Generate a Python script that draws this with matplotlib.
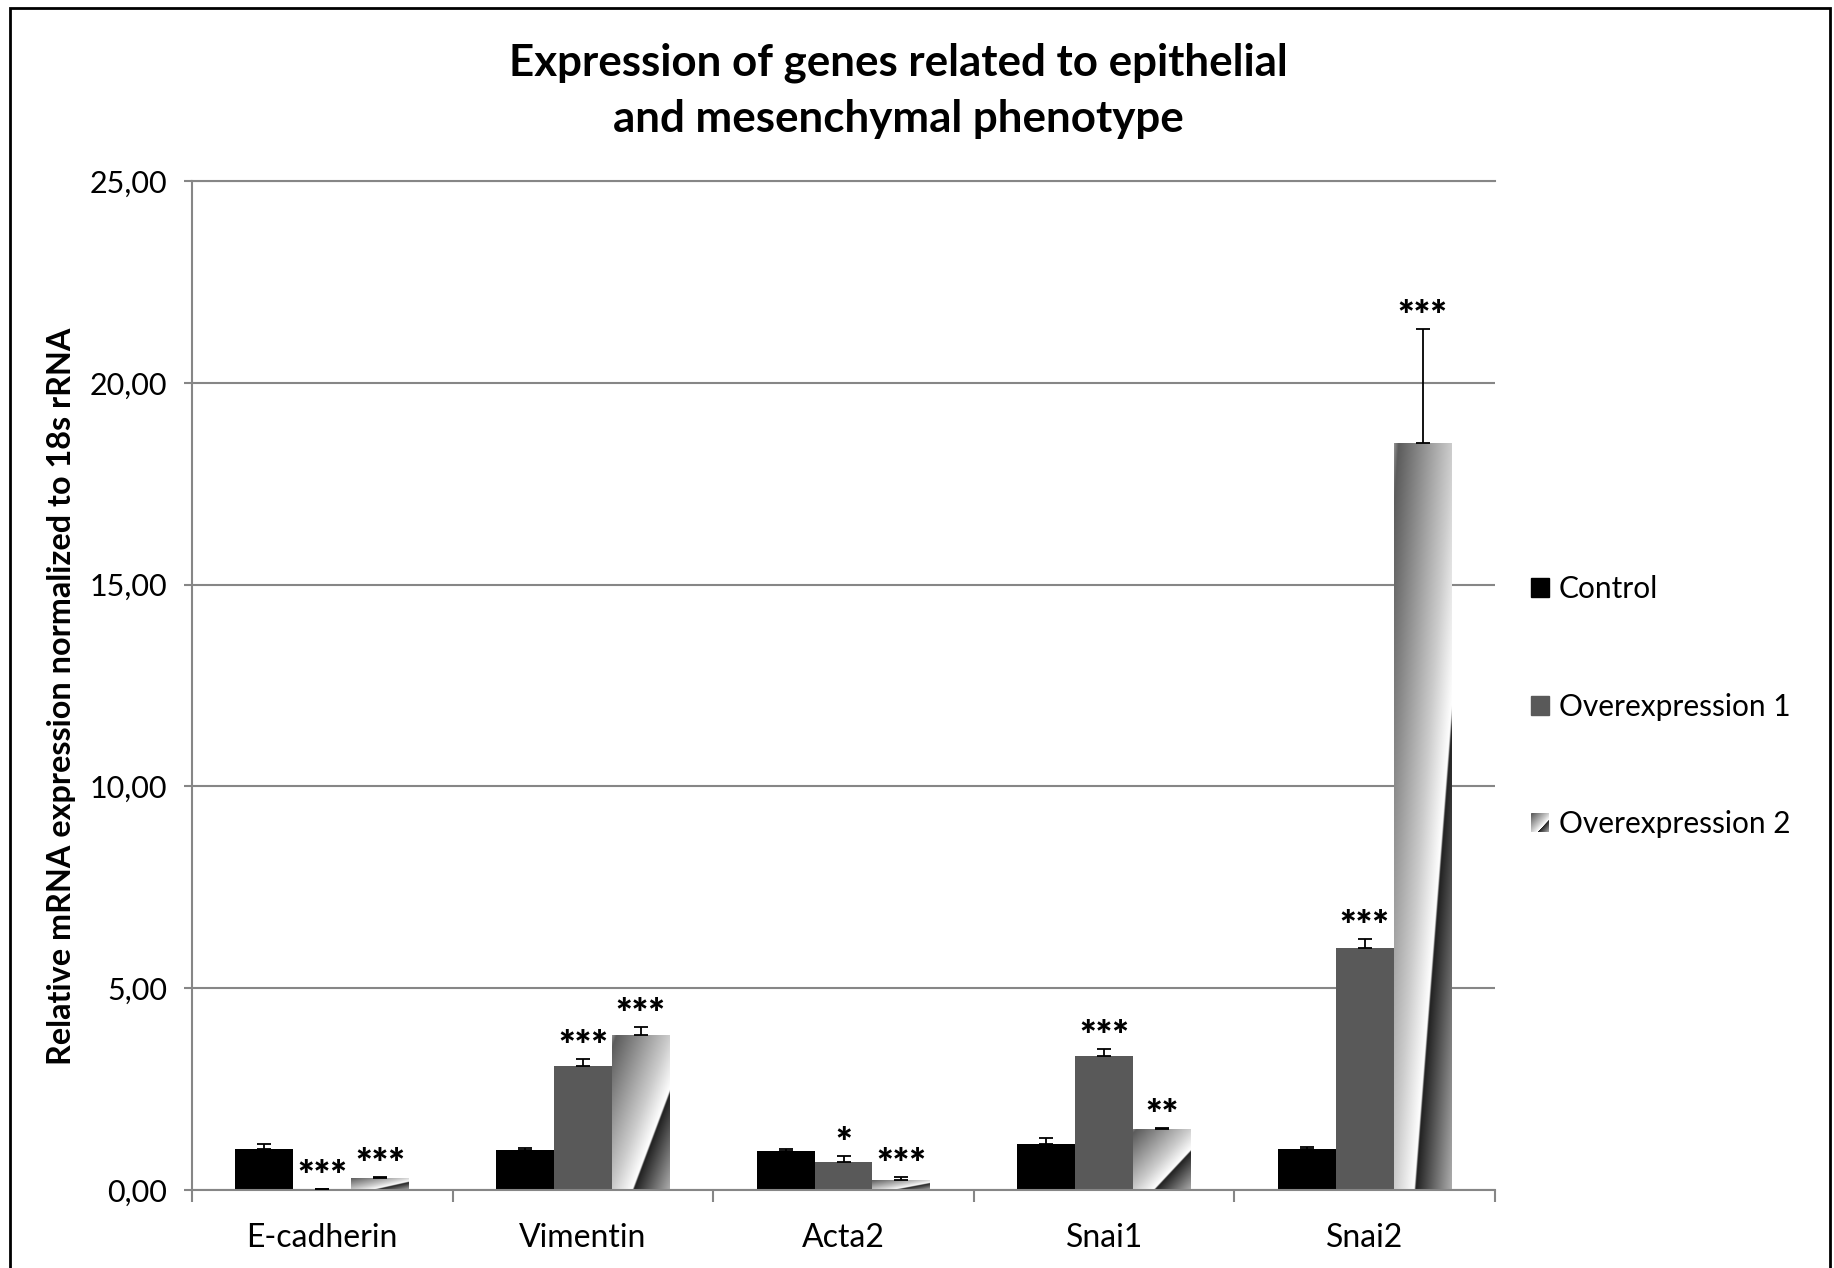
import numpy as np
import matplotlib
matplotlib.use("Agg")
import matplotlib.pyplot as plt
from matplotlib.patches import Rectangle
from matplotlib.ticker import FuncFormatter, FixedLocator
from matplotlib.legend_handler import HandlerBase
from matplotlib.image import BboxImage
from matplotlib.transforms import Bbox, TransformedBbox

plt.rcParams['font.family'] = ['Lato', 'DejaVu Sans']

# ---- data ----
genes = ["E-cadherin", "Vimentin", "Acta2", "Snai1", "Snai2"]
series_names = ["Control", "Overexpression 1", "Overexpression 2"]
control = [1.01, 0.99, 0.97, 1.13, 1.01]
control_err = [0.13, 0.05, 0.04, 0.16, 0.05]
oe1 = [0.03, 3.07, 0.69, 3.33, 5.99]
oe1_err = [0.00, 0.17, 0.15, 0.17, 0.24]
oe2 = [0.30, 3.83, 0.25, 1.52, 18.50]
oe2_err = [0.03, 0.20, 0.06, 0.01, 2.83]
oe1_sig = ["***", "***", "*", "***", "***"]
oe2_sig = ["***", "***", "***", "**", "***"]
y_ticks = [0, 5, 10, 15, 20, 25]

GRID = "#868686"
FS = 23


def diagonal_shade(n=400):
    """Grey diagonal gradient in the unit square (origin at the lower left)."""
    xs = np.linspace(0, 1, n)
    X, Y = np.meshgrid(xs, xs)
    t = (X - Y + 1.0) / 2.0
    stops_t = [0.0, 0.04, 0.50, 0.675, 0.688, 1.0]
    stops_v = [0.58, 0.36, 0.80, 1.0, 0.13, 0.68]
    g = np.interp(t, stops_t, stops_v)
    return np.dstack([g, g, g])


SHADE = diagonal_shade()

fig = plt.figure(figsize=(18.34, 12.68), dpi=100)
ax = fig.add_axes([192 / 1834, 1 - 1190 / 1268, (1495 - 192) / 1834, (1190 - 181) / 1268])

x = np.arange(len(genes))
w = 1 / 4.5

b0 = ax.bar(x - w, control, w, color="black", zorder=2)
b1 = ax.bar(x, oe1, w, color="#595959", zorder=2)
b2 = ax.bar(x + w, oe2, w, color="none", zorder=2)

# gradient fill for the third series, clipped to each bar
for bar in b2:
    x0, y0 = bar.get_x(), bar.get_y()
    bw, bh = bar.get_width(), bar.get_height()
    im = ax.imshow(SHADE, extent=(x0, x0 + bw, y0, y0 + bh), origin="lower",
                   aspect="auto", interpolation="bilinear", zorder=2)
    im.set_clip_path(bar)

# upper error bars
ekw = dict(fmt="none", ecolor="black", elinewidth=1.3, capsize=4.7, capthick=1.3, zorder=3)
for xs, vals, errs in [(x - w, control, control_err), (x, oe1, oe1_err), (x + w, oe2, oe2_err)]:
    ax.errorbar(xs, vals, yerr=[np.zeros(len(errs)), errs], **ekw)

# significance markers
for xs, vals, errs, sig in [(x, oe1, oe1_err, oe1_sig), (x + w, oe2, oe2_err, oe2_sig)]:
    for xi, v, e, s in zip(xs, vals, errs, sig):
        ax.annotate(s, (xi, v + e), xytext=(0, 0), textcoords="offset points",
                    ha="center", va="baseline", fontsize=28, fontweight="heavy", zorder=4)

ax.set_xlim(-0.5, len(genes) - 0.5)
ax.set_ylim(0, 25)

# axes styling
ax.spines["right"].set_visible(False)
for side in ["left", "bottom", "top"]:
    ax.spines[side].set_color(GRID)
    ax.spines[side].set_linewidth(1.5)
ax.set_axisbelow(True)
ax.yaxis.grid(True, color=GRID, linewidth=1.5)

ax.set_yticks(y_ticks)
ax.yaxis.set_major_formatter(FuncFormatter(lambda v, p: f"{v:.2f}".replace(".", ",")))
ax.tick_params(axis="y", length=6, width=1.5, color=GRID, pad=12, labelsize=FS - 1)

ax.set_xticks(x)
ax.set_xticklabels(genes)
ax.xaxis.set_minor_locator(FixedLocator(np.arange(-0.5, len(genes), 1.0)))
ax.tick_params(axis="x", which="major", length=0, pad=23.5, labelsize=FS)
ax.tick_params(axis="x", which="minor", length=8.5, width=1.5, color=GRID)

ax.set_ylabel("Relative mRNA expression normalized to 18s rRNA", fontsize=23.3,
              fontweight="bold")
ax.yaxis.set_label_coords(-0.0893, 0.489)

fig.text(0.49, 1 - 90.5 / 1268, "Expression of genes related to epithelial\nand mesenchymal phenotype",
         ha="center", va="center", fontsize=31.6, fontweight="bold", linespacing=1.47)


class ShadeHandler(HandlerBase):
    def create_artists(self, legend, orig_handle, xdescent, ydescent, width, height,
                       fontsize, trans):
        bb = Bbox.from_bounds(-xdescent, -ydescent, width, height)
        img = BboxImage(TransformedBbox(bb, trans), interpolation="bilinear")
        img.set_data(SHADE[::-1])
        return [img]


h0 = Rectangle((0, 0), 1, 1, color="black")
h1 = Rectangle((0, 0), 1, 1, color="#595959")
h2 = Rectangle((0, 0), 1, 1, color="none")
fig.legend([h0, h1, h2], series_names, loc="upper left",
           bbox_to_anchor=(1531 / 1834, 1 - 575 / 1268), frameon=False,
           fontsize=21.5, handlelength=0.6, handleheight=0.6, handletextpad=0.33,
           labelspacing=3.0, borderpad=0, borderaxespad=0,
           handler_map={h2: ShadeHandler()})

# chart area border
fig.add_artist(Rectangle((10 / 1834, -0.05), (1830 - 10) / 1834, 1.05 - 8 / 1268,
                         transform=fig.transFigure, fill=False, edgecolor="black",
                         linewidth=2))

fig.savefig("out.png", dpi=100)
